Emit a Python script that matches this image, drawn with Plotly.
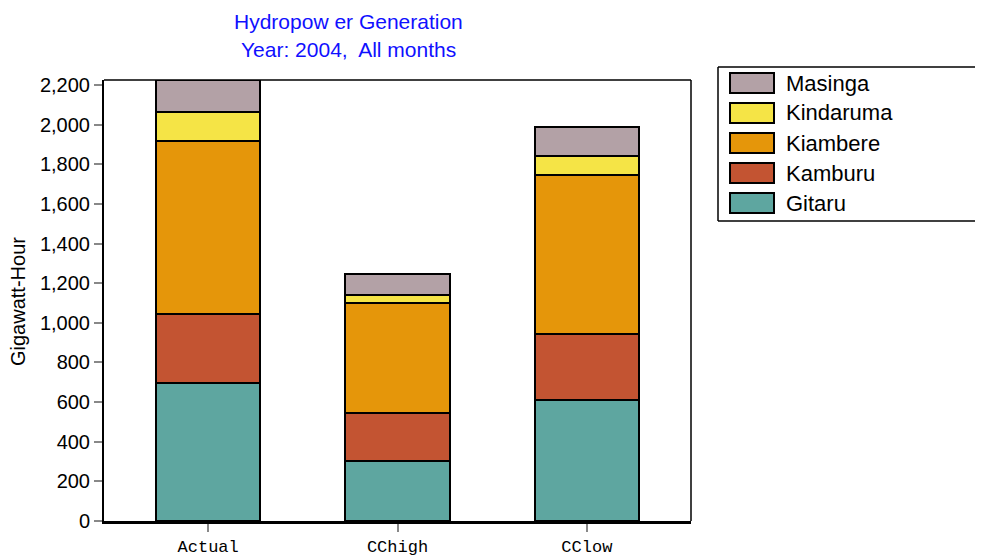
import plotly.graph_objects as go

categories = ["Actual", "CChigh", "CClow"]
tick_text = ["Actual", "CChigh", "CClow"]
series_names = ["Gitaru", "Kamburu", "Kiambere", "Kindaruma", "Masinga"]
gitaru = [696, 303, 611]
kamburu = [348, 242, 333]
kiambere = [873, 556, 803]
kindaruma = [147, 40, 96]
masinga = [161, 106, 147]
colors = ["#5ea6a0", "#c35432", "#e5960a", "#f5e446", "#b3a1a6"]
y_ticks = [0, 200, 400, 600, 800, 1000, 1200, 1400, 1600, 1800, 2000, 2200]

values = [gitaru, kamburu, kiambere, kindaruma, masinga]

fig = go.Figure()
for name, vals, col in zip(series_names, values, colors):
    fig.add_trace(go.Bar(
        x=list(range(len(categories))), y=vals, name=name,
        marker=dict(color=col, line=dict(color="black", width=2)),
        width=0.55, showlegend=False,
    ))

# page offset (body margin)
OX, OY = 8, 8
W, H = 983, 558
L = 104 - OX
T = 80 - OY
R = W - (691 - OX)
B = H - (521 - OY)
pw, ph = W - L - R, H - T - B

def px2paper(x, y):
    # x, y in page pixels of the reference
    return (x - OX - L) / pw, (H - B - (y - OY)) / ph

shapes = []
annotations = []

# frame top & right
shapes.append(dict(type="line", xref="paper", yref="paper", x0=0, x1=1, y0=1, y1=1,
                   line=dict(color="black", width=1.5)))
shapes.append(dict(type="line", xref="paper", yref="paper", x0=1, x1=1, y0=0, y1=1,
                   line=dict(color="black", width=1.5)))

# manual legend (box runs off the right edge)
lx0, ly0 = px2paper(718, 67)
lx1, ly1 = px2paper(1010, 221)
for (a, b, c, d) in [(lx0, ly0, lx1, ly0), (lx0, ly1, lx1, ly1), (lx0, ly0, lx0, ly1)]:
    shapes.append(dict(type="line", xref="paper", yref="paper", x0=a, y0=b, x1=c, y1=d,
                       line=dict(color="black", width=1.5)))
order = list(range(len(series_names)))[::-1]
for i, idx in enumerate(order):
    cy = 83 + i * 30
    sx0, sy0 = px2paper(730, cy - 10)
    sx1, sy1 = px2paper(774, cy + 10)
    shapes.append(dict(type="rect", xref="paper", yref="paper", x0=sx0, x1=sx1, y0=sy1, y1=sy0,
                       line=dict(color="black", width=2), fillcolor=colors[idx]))
    tx, ty = px2paper(784, cy)
    annotations.append(dict(text=series_names[idx], xref="paper", yref="paper", x=tx, y=ty,
                            xanchor="left", yanchor="middle", showarrow=False,
                            font=dict(family="Liberation Sans, Arial", size=22, color="black")))

# title
for txt, yy in [("Hydropow er Generation", 21), ("Year: 2004,  All months", 50)]:
    tx, ty = px2paper(348, yy)
    annotations.append(dict(text=txt, xref="paper", yref="paper", x=tx, y=ty,
                            xanchor="center", yanchor="middle", showarrow=False,
                            font=dict(family="Liberation Sans, Arial", size=21, color="#1010ff")))

# y title
tx, ty = px2paper(18, 302)
annotations.append(dict(text="Gigawatt-Hour", xref="paper", yref="paper", x=tx, y=ty,
                        xanchor="center", yanchor="middle", showarrow=False, textangle=-90,
                        font=dict(family="Liberation Sans, Arial", size=20, color="black")))

fig.update_layout(
    width=W, height=H,
    margin=dict(l=L, r=R, t=T, b=B),
    barmode="stack",
    plot_bgcolor="white", paper_bgcolor="white",
    shapes=shapes, annotations=annotations,
    xaxis=dict(
        range=[-0.55, 2.55], tickvals=list(range(len(categories))), ticktext=tick_text,
        showgrid=False, zeroline=False, showline=True, linecolor="black", linewidth=3,
        ticks="outside", ticklen=8, tickcolor="#888888", tickwidth=1.5,
        tickfont=dict(family="Liberation Mono, Courier New", size=17, color="black"),
        automargin=False,
    ),
    yaxis=dict(
        range=[0, 2225], tickvals=y_ticks, tickformat=",d",
        showgrid=False, zeroline=False, showline=True, linecolor="black", linewidth=2,
        ticks="outside", ticklen=8, tickcolor="#888888", tickwidth=1.5,
        tickfont=dict(family="Liberation Sans, Arial", size=20, color="black"),
        automargin=False,
    ),
    font=dict(family="Liberation Sans, Arial"),
)

fig.write_html("out.html")
